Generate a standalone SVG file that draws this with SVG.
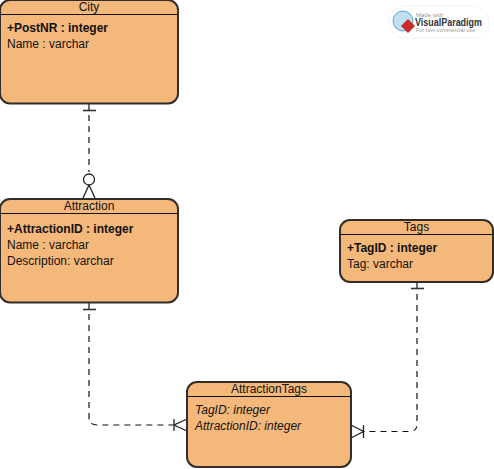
<svg xmlns="http://www.w3.org/2000/svg" width="494" height="469" viewBox="0 0 494 469">
<style>
text{font-family:"Liberation Sans",Arial,sans-serif;font-size:12px;fill:#111}
.t{text-anchor:middle}
.b{font-weight:bold}
.i{font-style:italic}
.box{fill:#f5b87b;stroke:#332d2a;stroke-width:2}
.hd{stroke:#111;stroke-width:1;fill:none}
.c{fill:none;stroke:#111;stroke-width:1.2;stroke-dasharray:6 5}
.m{fill:none;stroke:#222;stroke-width:1.3}
.bar{fill:none;stroke:#333;stroke-width:1.6}
</style>
<g id="connectors">
<path class="c" d="M89 104V172"/>
<path class="bar" d="M83 110.500H96"/>
<circle class="m" cx="89" cy="179.500" r="5.500"/>
<path class="m" d="M89 185L83 198M89 185L95 198"/>
<path class="c" d="M89 303V417Q89 425 97 425H173"/>
<path class="bar" d="M83 309.500H96"/>
<path class="m" d="M174 419V431M187 419L174 425L187 431"/>
<path class="c" d="M417 283V424Q417 431.500 410 431.500H364"/>
<path class="bar" d="M411 288.500H424"/>
<path class="m" d="M363.500 425V438M351 425L363.500 431.500L351 438"/>
</g>
<g id="city">
<rect class="box" x="0" y="0" width="178" height="103.500" rx="10"/>
<path class="hd" d="M0 14.500H178"/>
<text class="t" x="89" y="11">City</text>
<text class="b" x="7" y="32">+PostNR : integer</text>
<text x="7" y="48">Name : varchar</text>
</g>
<g id="attraction">
<rect class="box" x="0" y="199" width="178" height="103.500" rx="10"/>
<path class="hd" d="M0 213.500H178"/>
<text class="t" x="89" y="210">Attraction</text>
<text class="b" x="7" y="233">+AttractionID : integer</text>
<text x="7" y="249">Name : varchar</text>
<text x="7" y="265">Description: varchar</text>
</g>
<g id="tags">
<rect class="box" x="340" y="220" width="153" height="62" rx="10"/>
<path class="hd" d="M340 234.500H493"/>
<text class="t" x="416.500" y="231">Tags</text>
<text class="b" x="347" y="252">+TagID : integer</text>
<text x="347" y="268">Tag: varchar</text>
</g>
<g id="attractiontags">
<rect class="box" x="187" y="382" width="164" height="85" rx="10"/>
<path class="hd" d="M187 396.500H351"/>
<text class="t" x="269" y="393">AttractionTags</text>
<text class="i" x="195" y="414">TagID: integer</text>
<text class="i" x="195" y="430">AttractionID: integer</text>
</g>
<g id="watermark">
<rect x="389" y="6" width="100" height="32" rx="16" fill="#fff" stroke="#f4f4f4"/>
<circle cx="403" cy="21" r="10" fill="#bfe0f0" stroke="#5aa6cf"/>
<path d="M408 19L415 26L408 33L401 26Z" fill="#cc2a2a"/>
<text x="416" y="17" style="font-size:6px;fill:#999">Made with</text>
<text x="415" y="26" textLength="67" lengthAdjust="spacingAndGlyphs" style="font-size:10px;font-weight:bold;fill:#333">VisualParadigm</text>
<text x="416" y="32" textLength="59" lengthAdjust="spacingAndGlyphs" style="font-size:5.500px;fill:#999">For non-commercial use</text>
</g>
</svg>
